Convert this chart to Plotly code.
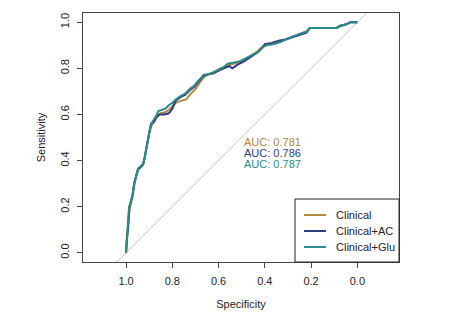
import plotly.graph_objects as go

# ---- data ----
series_names = ["Clinical", "Clinical+AC", "Clinical+Glu"]
auc_values = [0.781, 0.786, 0.787]
colors = ["#B08A3E", "#2F3C80", "#2B8C8A"]

clin_spec = [1.0, 0.997, 0.99, 0.985, 0.98, 0.972, 0.965, 0.958, 0.95, 0.94, 0.93, 0.922, 0.915, 0.908, 0.9, 0.89, 0.88, 0.865, 0.85, 0.83, 0.815, 0.8, 0.785, 0.76, 0.74, 0.72, 0.70, 0.68, 0.66, 0.64, 0.62, 0.6, 0.58, 0.55, 0.52, 0.49, 0.46, 0.43, 0.41, 0.39, 0.36, 0.33, 0.3, 0.27, 0.24, 0.22, 0.205, 0.15, 0.09, 0.07, 0.05, 0.03, 0.0]
clin_sens = [0.0, 0.06, 0.11, 0.19, 0.21, 0.24, 0.29, 0.32, 0.36, 0.37, 0.38, 0.40, 0.44, 0.47, 0.52, 0.55, 0.575, 0.595, 0.605, 0.61, 0.62, 0.635, 0.65, 0.66, 0.665, 0.69, 0.71, 0.74, 0.765, 0.775, 0.78, 0.79, 0.80, 0.815, 0.825, 0.835, 0.855, 0.875, 0.895, 0.90, 0.905, 0.915, 0.93, 0.94, 0.95, 0.96, 0.975, 0.975, 0.975, 0.985, 0.99, 1.0, 1.0]

ac_spec = [1.0, 0.997, 0.99, 0.985, 0.98, 0.972, 0.963, 0.955, 0.947, 0.935, 0.925, 0.918, 0.91, 0.902, 0.892, 0.88, 0.87, 0.855, 0.835, 0.815, 0.8, 0.785, 0.765, 0.745, 0.725, 0.705, 0.685, 0.665, 0.64, 0.62, 0.6, 0.58, 0.555, 0.54, 0.52, 0.49, 0.46, 0.43, 0.41, 0.40, 0.37, 0.34, 0.31, 0.28, 0.25, 0.22, 0.205, 0.15, 0.09, 0.075, 0.05, 0.03, 0.0]
ac_sens = [0.0, 0.05, 0.12, 0.20, 0.22, 0.25, 0.31, 0.34, 0.365, 0.375, 0.385, 0.42, 0.46, 0.51, 0.56, 0.565, 0.585, 0.60, 0.60, 0.605, 0.625, 0.66, 0.675, 0.685, 0.705, 0.72, 0.745, 0.77, 0.775, 0.78, 0.79, 0.80, 0.81, 0.80, 0.815, 0.83, 0.85, 0.87, 0.89, 0.905, 0.91, 0.92, 0.925, 0.935, 0.945, 0.955, 0.975, 0.975, 0.975, 0.985, 0.99, 1.0, 1.0]

glu_spec = [1.0, 0.997, 0.992, 0.987, 0.98, 0.972, 0.965, 0.957, 0.948, 0.937, 0.928, 0.92, 0.912, 0.904, 0.895, 0.885, 0.872, 0.86, 0.845, 0.83, 0.815, 0.8, 0.785, 0.765, 0.745, 0.725, 0.705, 0.685, 0.665, 0.64, 0.62, 0.6, 0.58, 0.56, 0.535, 0.51, 0.49, 0.46, 0.43, 0.41, 0.395, 0.36, 0.33, 0.3, 0.27, 0.24, 0.22, 0.205, 0.15, 0.09, 0.07, 0.05, 0.03, 0.0]
glu_sens = [0.0, 0.06, 0.12, 0.2, 0.215, 0.25, 0.30, 0.33, 0.36, 0.37, 0.38, 0.41, 0.45, 0.50, 0.545, 0.57, 0.59, 0.615, 0.62, 0.625, 0.64, 0.65, 0.665, 0.68, 0.69, 0.71, 0.725, 0.75, 0.765, 0.775, 0.785, 0.795, 0.805, 0.82, 0.825, 0.83, 0.84, 0.855, 0.87, 0.89, 0.9, 0.905, 0.915, 0.93, 0.94, 0.95, 0.96, 0.975, 0.975, 0.975, 0.985, 0.99, 1.0, 1.0]

diag_spec = [1.05, -0.05]
diag_sens = [-0.05, 1.05]

tick_vals = [1.0, 0.8, 0.6, 0.4, 0.2, 0.0]
tick_text = ["1.0", "0.8", "0.6", "0.4", "0.2", "0.0"]

FONT = "Liberation Sans, Arial, Helvetica, sans-serif"
TXT = "#222222"
FS = 11

fig = go.Figure()
fig.add_trace(go.Scatter(x=diag_spec, y=diag_sens, mode="lines",
                         line=dict(color="#C4C4C4", width=1), showlegend=False, hoverinfo="skip"))
for name, xs, ys, c in zip(series_names, [clin_spec, ac_spec, glu_spec],
                           [clin_sens, ac_sens, glu_sens], colors):
    fig.add_trace(go.Scatter(x=xs, y=ys, mode="lines", name=name,
                             line=dict(color=c, width=2), showlegend=False))

# AUC labels
for i, (v, c) in enumerate(zip(auc_values, colors)):
    fig.add_annotation(x=0.498, y=0.481 - i * 0.0475, xref="x", yref="y",
                       text=f"AUC: {v:.3f}", showarrow=False, xanchor="left", yanchor="middle",
                       font=dict(family=FONT, size=FS, color=c))

# legend (drawn in paper coordinates)
PL, PR, PT, PB = 83, 399, 13, 262
W, H = 451, 327
pw, ph = PR - PL, PB - PT
def px(xp):
    return (xp - PL) / pw
def py(yp):
    return (PB - yp) / ph
fig.add_shape(type="rect", xref="paper", yref="paper", x0=px(295), x1=px(399), y0=py(262), y1=py(199),
              line=dict(color="#222222", width=1), fillcolor="white", layer="above")
for i, (name, c) in enumerate(zip(series_names, colors)):
    yy = 215 + i * 16
    fig.add_shape(type="line", xref="paper", yref="paper", x0=px(304), x1=px(326), y0=py(yy), y1=py(yy),
                  line=dict(color=c, width=2), layer="above")
    fig.add_annotation(x=px(334), y=py(yy), xref="paper", yref="paper", text=name, showarrow=False,
                       xanchor="left", yanchor="middle", font=dict(family=FONT, size=FS, color=TXT))

axis_common = dict(showgrid=False, zeroline=False, showline=True, mirror=True, linecolor="#444444",
                   linewidth=1, ticks="outside", ticklen=5, tickcolor="#444444",
                   tickvals=tick_vals, ticktext=tick_text,
                   tickfont=dict(family=FONT, size=FS, color=TXT))
fig.update_xaxes(range=[1.186, -0.18], ticklabelstandoff=4,
                 title=dict(text="Specificity", standoff=14,
                            font=dict(family=FONT, size=FS, color=TXT)), **axis_common)
fig.update_yaxes(range=[-0.04, 1.04], tickangle=-90, ticklabelstandoff=4,
                 title=dict(text="Sensitivity", standoff=10,
                            font=dict(family=FONT, size=FS, color=TXT)), **axis_common)

fig.update_layout(width=W, height=H, margin=dict(l=PL, r=W - PR, t=PT, b=H - PB),
                  plot_bgcolor="white", paper_bgcolor="white", showlegend=False,
                  font=dict(family=FONT, size=FS, color=TXT))
fig.write_html("out.html")
